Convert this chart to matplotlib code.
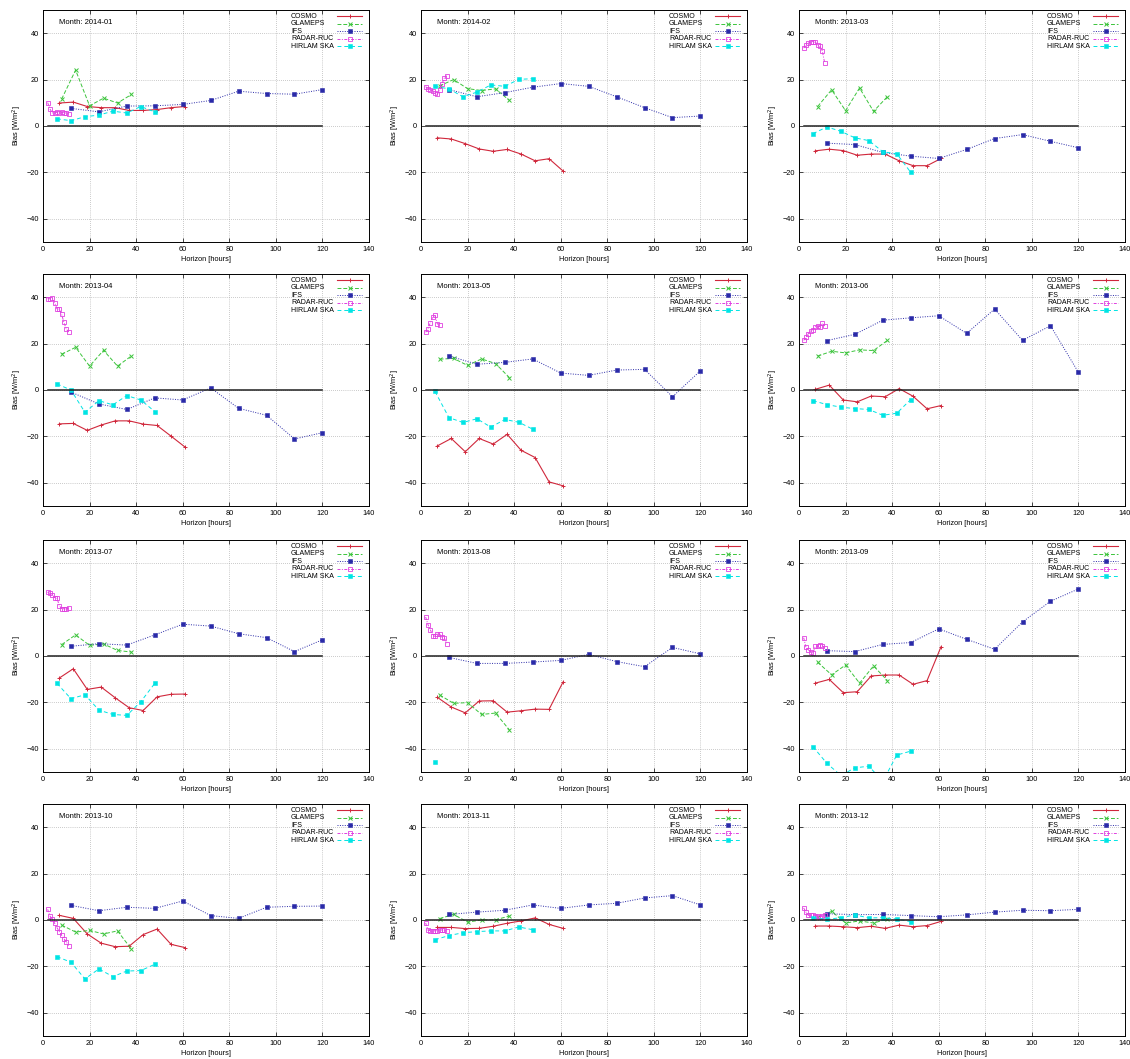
import numpy as np
import matplotlib
matplotlib.use("Agg")
import matplotlib.pyplot as plt

plt.rcParams['font.family'] = ['Liberation Sans', 'DejaVu Sans']

months = ["2014-01", "2014-02", "2013-03", "2013-04", "2013-05", "2013-06",
          "2013-07", "2013-08", "2013-09", "2013-10", "2013-11", "2013-12"]

# forecast horizons (hours) per model
cosmo_hours = [7, 13, 19, 25, 31, 37, 43, 49, 55, 61]
glameps_hours = [8, 14, 20, 26, 32, 38]
ifs_hours = [12, 24, 36, 48, 60, 72, 84, 96, 108, 120]
radar_hours = [2, 3, 4, 5, 6, 7, 8, 9, 10, 11]
hirlam_hours = [6, 12, 18, 24, 30, 36, 42, 48]

# bias W/m2, one list per month (same order as months)
cosmo_bias = [
    [9.9, 10.3, 8.4, 7.9, 7.9, 6.7, 6.7, 7.1, 7.9, 8.4],
    [-5.1, -5.6, -7.6, -9.9, -10.9, -10.1, -12.1, -15.0, -14.1, -19.4],
    [-10.7, -10.0, -10.6, -12.6, -12.1, -12.1, -15.0, -17.1, -17.1, -14.0],
    [-14.6, -14.4, -17.4, -15.1, -13.3, -13.3, -14.7, -15.3, -19.9, -24.6],
    [-24.1, -20.9, -26.6, -20.9, -23.3, -19.1, -26.0, -29.1, -39.6, -41.3],
    [0.3, 2.1, -4.3, -5.1, -2.6, -2.9, 0.6, -2.7, -8.1, -6.7],
    [-9.5, -5.5, -14.4, -13.4, -18.0, -22.3, -23.5, -17.6, -16.5, -16.4],
    [-17.8, -22.0, -24.5, -19.4, -19.3, -24.2, -23.6, -22.9, -23.0, -11.2],
    [-11.7, -10.1, -15.8, -15.4, -8.6, -8.2, -8.2, -12.2, -10.6, 4.0],
    [2.0, 0.7, -6.0, -10.0, -11.5, -11.3, -6.3, -3.9, -10.5, -11.9],
    [-3.2, -3.2, -3.7, -3.6, -2.7, -1.4, -0.4, 0.9, -1.9, -3.6],
    [-2.6, -2.6, -2.9, -3.3, -2.7, -3.6, -2.2, -2.9, -2.4, -0.6],
]
glameps_bias = [
    [11.6, 24.1, 8.7, 12.0, 9.9, 13.6],
    [17.3, 20.0, 16.1, 15.3, 16.0, 11.0],
    [8.4, 15.6, 6.6, 16.4, 6.3, 12.7],
    [15.4, 18.4, 10.3, 17.1, 10.3, 14.7],
    [13.3, 13.6, 10.6, 13.4, 11.4, 5.3],
    [14.6, 16.7, 16.0, 17.3, 17.0, 21.4],
    [4.9, 9.1, 4.6, 5.2, 2.4, 1.7],
    [-16.8, -20.4, -20.1, -25.2, -24.6, -31.9],
    [-2.7, -8.1, -3.9, -11.7, -4.3, -10.6],
    [-2.2, -5.2, -4.5, -6.0, -4.7, -12.6],
    [0.6, 2.4, -0.9, 0.0, 0.1, 1.7],
    [1.3, 3.7, -1.3, -0.4, -1.3, 0.4],
]
ifs_bias = [
    [7.6, 6.1, 8.6, 8.7, 9.3, 11.0, 15.0, 14.0, 13.7, 15.7],
    [15.7, 12.6, 14.4, 16.7, 18.3, 17.1, 12.6, 7.9, 3.6, 4.3],
    [-7.4, -8.0, -11.4, -13.0, -14.0, -10.1, -5.4, -3.7, -6.6, -9.4],
    [-0.9, -6.0, -8.4, -3.4, -4.3, 0.9, -7.9, -10.9, -21.1, -18.4],
    [14.7, 11.1, 11.9, 13.4, 7.3, 6.3, 8.6, 8.9, -2.9, 8.3],
    [21.3, 24.0, 30.1, 31.1, 32.0, 24.4, 34.9, 21.4, 27.7, 7.6],
    [4.2, 5.3, 4.7, 9.1, 13.7, 12.9, 9.6, 7.9, 1.9, 7.0],
    [-0.6, -3.2, -3.2, -2.6, -1.9, 0.7, -2.4, -4.6, 3.7, 0.9],
    [2.3, 1.9, 5.0, 5.8, 11.7, 7.2, 2.9, 14.7, 23.6, 28.9],
    [6.3, 4.0, 5.5, 5.0, 8.2, 1.9, 0.7, 5.5, 5.9, 6.0],
    [2.4, 3.4, 4.2, 6.5, 5.0, 6.5, 7.2, 9.5, 10.5, 6.5],
    [2.7, 2.3, 2.4, 1.9, 1.4, 2.2, 3.4, 4.2, 4.0, 4.6],
]
radar_bias = [
    [10.1, 7.3, 5.7, 5.6, 6.0, 5.6, 6.0, 5.7, 5.6, 5.3],
    [17.0, 15.9, 15.6, 15.3, 14.3, 13.6, 15.6, 18.1, 20.7, 21.7],
    [33.6, 35.1, 35.7, 36.4, 36.4, 36.1, 35.1, 34.3, 32.4, 27.3],
    [39.4, 39.3, 39.6, 37.6, 35.0, 34.9, 32.6, 29.1, 26.3, 24.9],
    [24.9, 26.5, 29.0, 31.5, 32.3, 28.5, 28.2],
    [21.4, 22.7, 24.3, 25.4, 26.0, 27.3, 27.4, 27.3, 28.7, 27.4],
    [27.5, 27.0, 26.5, 25.2, 25.0, 21.7, 20.3, 20.4, 20.3, 20.6],
    [16.8, 13.5, 11.4, 8.8, 8.5, 9.6, 9.4, 8.1, 7.9, 5.2],
    [7.9, 3.7, 2.6, 1.9, 1.2, 4.2, 4.2, 4.7, 4.5, 3.5],
    [4.6, 1.7, 0.3, -1.4, -3.3, -5.0, -6.6, -8.0, -9.5, -11.0],
    [-1.3, -4.4, -4.6, -4.9, -4.6, -4.6, -4.2, -4.3, -4.3, -4.9],
    [5.2, 3.4, 2.0, 2.0, 2.2, 1.9, 1.7, 1.3, 1.7, 2.0],
]
hirlam_bias = [
    [3.1, 2.3, 4.0, 4.7, 6.4, 5.6, 8.4, 6.1],
    [17.1, 16.0, 12.6, 14.6, 17.7, 17.1, 20.1, 20.4],
    [-3.3, -0.4, -2.3, -5.1, -6.3, -11.1, -12.0, -20.0],
    [2.6, 0.0, -9.6, -4.6, -6.4, -2.4, -4.3, -9.3],
    [-0.6, -11.9, -14.0, -12.4, -16.0, -12.7, -13.9, -16.9],
    [-4.6, -6.3, -7.4, -8.0, -8.4, -10.9, -10.0, -4.1],
    [-11.8, -18.4, -16.7, -23.3, -25.2, -25.6, -19.7, -11.8],
    [-45.9],
    [-39.1, -46.3, -51.5, -48.2, -47.5, -54.0, -42.7, -41.0],
    [-15.8, -18.2, -25.4, -21.1, -24.4, -22.0, -21.8, -19.1],
    [-8.5, -6.7, -5.5, -5.0, -4.7, -4.7, -3.0, -4.2],
    [1.0, 0.3, 1.0, 2.2, 0.9, 1.0, 0.4, -0.7],
]

labels = ['COSMO', 'GLAMEPS', 'IFS', 'RADAR-RUC', 'HIRLAM SKA']
styles = [
    dict(color='#d0283c', lw=0.8, ls='-', marker='+', ms=3.5, mew=0.7),
    dict(color='#3cc43c', lw=0.7, ls=(0, (4, 2)), marker='x', ms=2.8, mew=0.7),
    dict(color='#2a2aa8', lw=0.7, ls=(0, (1, 1.5)), marker='s', ms=2.3, mew=0.4),
    dict(color='#e040e0', lw=0.7, ls=(0, (3, 1.5, 1, 1.5)), marker='s', ms=3.4,
         mfc='none', mew=0.6),
    dict(color='#00e4e4', lw=0.7, ls=(0, (4, 3)), marker='s', ms=3.2, mew=0.4),
]

W, H = 1130, 1059
fig = plt.figure(figsize=(W / 100, H / 100), dpi=100)

col_left = [43, 421, 799]
row_top = [10, 274, 540, 804]
aw, ah = 326, 232

for i, m in enumerate(months):
    r, c = divmod(i, 3)
    ax = fig.add_axes([col_left[c] / W, 1 - (row_top[r] + ah) / H, aw / W, ah / H])

    series = [
        (cosmo_hours, cosmo_bias[i]),
        (glameps_hours, glameps_bias[i]),
        (ifs_hours, ifs_bias[i]),
        (radar_hours[:len(radar_bias[i])], radar_bias[i]),
        (hirlam_hours[:len(hirlam_bias[i])], hirlam_bias[i]),
    ]
    for (xs, ys), st in zip(series, styles):
        ax.plot(xs, ys, **st)
    ax.plot([2, 120], [0, 0], color='#202020', lw=1.1)

    # gnuplot-like key: text left, sample on the right
    for j, (lab, st) in enumerate(zip(labels, styles)):
        yk = 0.974 - j * 0.0325
        ax.text(0.761, yk, lab, transform=ax.transAxes, fontsize=5,
                va='center', ha='left')
        line_st = {k: v for k, v in st.items() if k not in ('marker', 'ms', 'mew', 'mfc')}
        ax.plot([0.902, 0.979], [yk, yk], transform=ax.transAxes, **line_st)
        ax.plot([0.942], [yk], transform=ax.transAxes, ls='none',
                **{k: v for k, v in st.items() if k not in ('ls', 'lw')})

    ax.set_xlim(0, 140)
    ax.set_ylim(-50, 50)
    ax.set_xticks(np.arange(0, 141, 20))
    ax.set_yticks([-40, -20, 0, 20, 40])
    ax.grid(True, color='#9a9a9a', lw=0.5, ls=(0, (1, 2)))
    ax.tick_params(direction='in', top=True, right=True, labelsize=5.3,
                   length=3, width=0.5, pad=3)
    for s in ax.spines.values():
        s.set_linewidth(0.7)
    ax.set_xlabel('Horizon [hours]', fontsize=5.3, labelpad=2)
    ax.set_ylabel('Bias [W/m$^2$]', fontsize=5.3, labelpad=2)
    ax.text(0.05, 0.945, 'Month: ' + m, transform=ax.transAxes, fontsize=5.5,
            va='center', ha='left')

fig.savefig('out.png', dpi=100)
